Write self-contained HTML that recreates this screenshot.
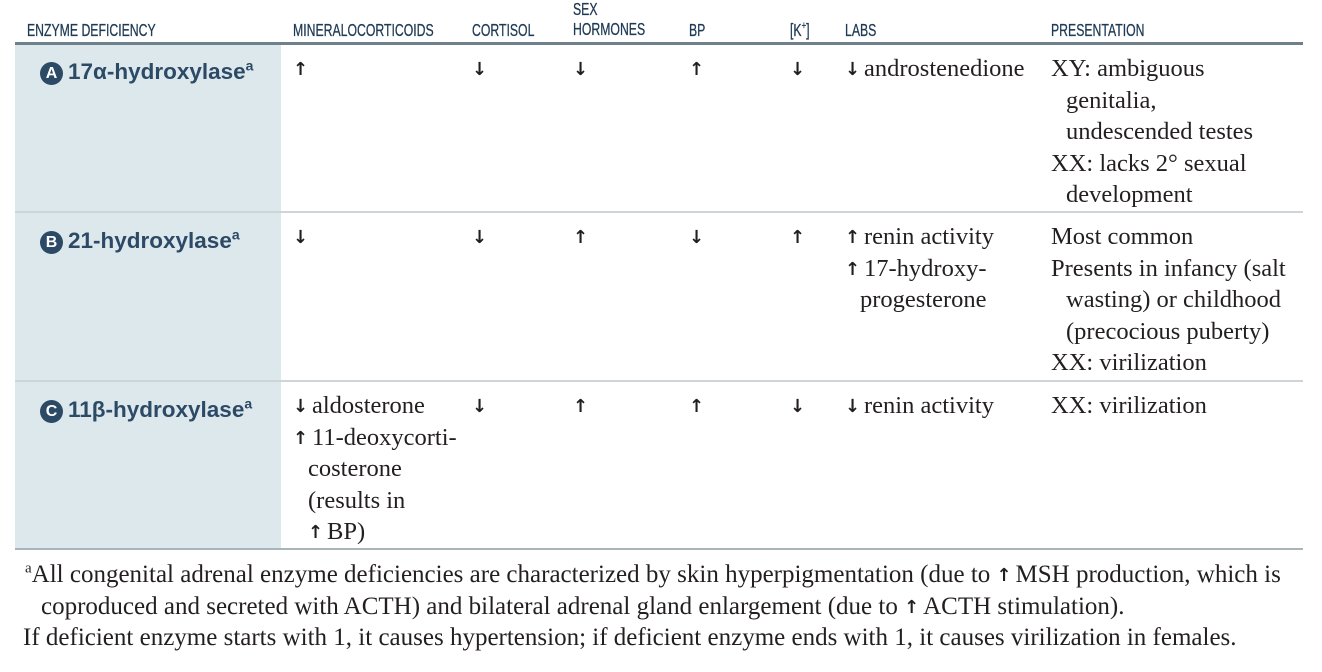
<!DOCTYPE html>
<html><head><meta charset="utf-8"><style>
body{margin:0;width:1322px;height:672px;background:#fff;position:relative;overflow:hidden;font-family:"Liberation Serif",serif;color:#231f20}
.a{position:absolute;white-space:nowrap}
.h{position:absolute;font-family:"Liberation Sans",sans-serif;font-size:17.5px;color:#1f3a55;transform:scaleX(.7);transform-origin:0 0;line-height:20px;-webkit-text-stroke:.3px #1f3a55}
.c{position:absolute;font-size:24.5px;line-height:31.6px;white-space:nowrap}
.c .i{padding-left:15px}
.ar{font-family:"DejaVu Sans",sans-serif;font-size:18px;font-weight:bold;display:inline-block;width:19px;line-height:10px;vertical-align:1px}
.lbl{position:absolute;left:40px;font-family:"Liberation Sans",sans-serif;font-weight:bold;font-size:22.5px;color:#2c4a66;white-space:nowrap;line-height:28px}
.circ{display:inline-block;width:23px;height:23px;border-radius:50%;background:#2c4a66;color:#fff;font-size:16px;text-align:center;line-height:23px;vertical-align:1px;margin-right:5px}
.lbl sup{font-size:14px;line-height:0}
.fn{position:absolute;left:25px;font-size:25px;line-height:31.6px;white-space:nowrap}
</style></head><body>
<div class="a" style="left:15px;top:44px;width:266px;height:505px;background:#dde8ec"></div>
<div class="a" style="left:15px;top:42px;width:1288px;height:3px;background:#6f808d"></div>
<div class="a" style="left:15px;top:211px;width:1288px;height:2px;background:#cdd5da"></div>
<div class="a" style="left:15px;top:380px;width:1288px;height:2px;background:#cdd5da"></div>
<div class="a" style="left:15px;top:548px;width:1288px;height:2px;background:#a9b4bb"></div>

<div class="h" style="left:27px;top:20px">ENZYME DEFICIENCY</div>
<div class="h" style="left:293px;top:20px">MINERALOCORTICOIDS</div>
<div class="h" style="left:472px;top:20px">CORTISOL</div>
<div class="h" style="left:573px;top:-1px">SEX<br>HORMONES</div>
<div class="h" style="left:689px;top:20px">BP</div>
<div class="h" style="left:790px;top:20px">[K<sup style="font-size:11px;line-height:0">+</sup>]</div>
<div class="h" style="left:845px;top:20px">LABS</div>
<div class="h" style="left:1051px;top:20px">PRESENTATION</div>

<div class="lbl" style="top:58px"><span class="circ">A</span>17α-hydroxylase<sup>a</sup></div>
<div class="c" style="left:293px;top:53px"><span class="ar">↑</span></div>
<div class="c" style="left:472px;top:53px"><span class="ar">↓</span></div>
<div class="c" style="left:573px;top:53px"><span class="ar">↓</span></div>
<div class="c" style="left:689px;top:53px"><span class="ar">↑</span></div>
<div class="c" style="left:790px;top:53px"><span class="ar">↓</span></div>
<div class="c" style="left:845px;top:53px"><span class="ar">↓</span>androstenedione</div>
<div class="c" style="left:1051px;top:53px">XY: ambiguous<div class="i">genitalia,</div><div class="i">undescended testes</div>XX: lacks 2° sexual<div class="i">development</div></div>

<div class="lbl" style="top:227px"><span class="circ">B</span>21-hydroxylase<sup>a</sup></div>
<div class="c" style="left:293px;top:221px"><span class="ar">↓</span></div>
<div class="c" style="left:472px;top:221px"><span class="ar">↓</span></div>
<div class="c" style="left:573px;top:221px"><span class="ar">↑</span></div>
<div class="c" style="left:689px;top:221px"><span class="ar">↓</span></div>
<div class="c" style="left:790px;top:221px"><span class="ar">↑</span></div>
<div class="c" style="left:845px;top:221px"><span class="ar">↑</span>renin activity<br><span class="ar">↑</span>17-hydroxy-<div class="i">progesterone</div></div>
<div class="c" style="left:1051px;top:221px">Most common<br>Presents in infancy (salt<div class="i">wasting) or childhood</div><div class="i">(precocious puberty)</div>XX: virilization</div>

<div class="lbl" style="top:396px"><span class="circ">C</span>11β-hydroxylase<sup>a</sup></div>
<div class="c" style="left:293px;top:390px"><span class="ar">↓</span>aldosterone<br><span class="ar">↑</span>11-deoxycorti-<div class="i">costerone</div><div class="i">(results in</div><div class="i"><span class="ar">↑</span>BP)</div></div>
<div class="c" style="left:472px;top:390px"><span class="ar">↓</span></div>
<div class="c" style="left:573px;top:390px"><span class="ar">↑</span></div>
<div class="c" style="left:689px;top:390px"><span class="ar">↑</span></div>
<div class="c" style="left:790px;top:390px"><span class="ar">↓</span></div>
<div class="c" style="left:845px;top:390px"><span class="ar">↓</span>renin activity</div>
<div class="c" style="left:1051px;top:390px">XX: virilization</div>

<div class="fn" style="top:559px"><sup style="font-size:15px;line-height:0">a</sup>All congenital adrenal enzyme deficiencies are characterized by skin hyperpigmentation (due to <span class="ar">↑</span>MSH production, which is<br><span style="padding-left:16px">coproduced and secreted with ACTH) and bilateral adrenal gland enlargement (due to <span class="ar">↑</span>ACTH stimulation).</span></div>
<div class="fn" style="top:622px;left:23px">If deficient enzyme starts with 1, it causes hypertension; if deficient enzyme ends with 1, it causes virilization in females.</div>
</body></html>
